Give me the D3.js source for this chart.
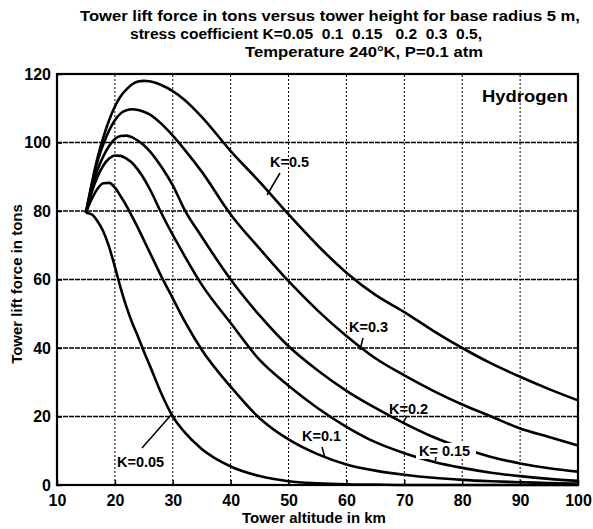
<!DOCTYPE html>
<html>
<head>
<meta charset="utf-8">
<script src="https://cdn.jsdelivr.net/npm/d3@7"></script>
<style>
  body { margin: 0; background: #fff; }
  svg { font-family: "Liberation Sans", Arial, sans-serif; font-weight: bold; }
  .title { white-space: pre; }
</style>
</head>
<body>
<div id="chart"></div>
<script>

// tower altitude in km (shared by all curves)
var altitude = [15,16,17,18,19,20,21,22,23,24,25,26,28,30,32,35,40,45,50,55,60,65,70,75,80,85,90,95,100];

// lift force in tons for each stress coefficient K
var liftK005 = [79.5,79,77,74,69.5,63.7,57.5,52,47.3,43.3,39,35,26.8,20,15.5,10.5,5.4,2.6,1.1,0.5,0.2,0.1,0,0,0,0,0,0,0];
var liftK01  = [79.5,83.5,86.5,88.1,88.2,86.8,84.3,81.5,78.3,75,71.5,68,61,54.5,48,39.5,28.7,19.5,13.3,9,6,4.2,3,2.1,1.5,1.1,0.8,0.6,0.4];
var liftK015 = [79.5,85.5,90,93.3,95.3,96.2,96.1,95.3,94,92,89.5,86.5,79.5,73,67,58.5,47.3,36.5,29,22.5,17,12.5,9.3,6.8,5,3.6,2.6,1.8,1.2];
var liftK02  = [79.5,86.5,92,96,99,101,101.9,102,101.5,100.5,99.2,97.5,93,87.5,80.5,72.5,60,49.5,40.5,33.5,27.5,22.5,18,14,10.8,8.2,6.3,4.9,3.9];
var liftK03  = [79.5,87.5,94.5,99.5,103.5,106.5,108.5,109.4,109.7,109.5,109,108.2,105.5,102,98,91.5,79,69,59.5,51,43.5,37,32,27.5,23.5,20,16.5,14,11.5];
var liftK05  = [79.5,88,95.5,101.5,106.5,110.5,113.5,115.5,117,117.8,118,117.9,116.8,115,112.5,107.5,97.5,88.5,79,70,62,55.5,50.5,45,40,35.5,31.6,28,24.7];

var xTicks = [10,20,30,40,50,60,70,80,90,100];
var yTicks = [0,20,40,60,80,100,120];

var titleLines = [
    "Tower lift force in tons versus tower height for base radius 5 m,",
    "stress coefficient K=0.05  0.1  0.15   0.2  0.3  0.5,",
    "Temperature 240\u00B0K, P=0.1 atm"
];

var series = [liftK005, liftK01, liftK015, liftK02, liftK03, liftK05];

var svg = d3.select("#chart").append("svg").attr("width", 593).attr("height", 529);

var x = d3.scaleLinear().domain([10, 100]).range([57, 578]);
var y = d3.scaleLinear().domain([0, 120]).range([485, 74]);

// title (scanned text is wide, so stretch to its measured extent)
var titleX = [80, 130, 245];
var titleW = [500, 352, 238];
svg.selectAll(".title").data(titleLines).enter().append("text")
    .attr("class", "title")
    .attr("x", function(d, i) { return titleX[i]; })
    .attr("y", function(d, i) { return 21 + i * 18; })
    .attr("font-size", 14)
    .attr("textLength", function(d, i) { return titleW[i]; })
    .attr("lengthAdjust", "spacingAndGlyphs")
    .text(function(d) { return d; });

// grid
svg.append("g").selectAll("line").data(xTicks.slice(1, -1)).enter().append("line")
    .attr("x1", function(d) { return x(d); }).attr("x2", function(d) { return x(d); })
    .attr("y1", y(0)).attr("y2", y(120))
    .attr("stroke", "#000").attr("stroke-width", 1).attr("stroke-dasharray", "2,2");

svg.append("g").selectAll("line").data(yTicks.slice(1, -1)).enter().append("line")
    .attr("x1", x(10)).attr("x2", x(100))
    .attr("y1", function(d) { return y(d); }).attr("y2", function(d) { return y(d); })
    .attr("stroke", "#000").attr("stroke-width", 1.5).attr("stroke-dasharray", "5,1");

// axes
var xAxis = d3.axisBottom(x).tickValues(xTicks).tickSize(-5).tickPadding(10);
var yAxis = d3.axisLeft(y).tickValues(yTicks).tickSize(-5).tickPadding(6);

var gx = svg.append("g").attr("transform", "translate(0," + y(0) + ")").call(xAxis);
var gy = svg.append("g").attr("transform", "translate(" + x(10) + ",0)").call(yAxis);
[gx, gy].forEach(function(g) {
    g.select(".domain").remove();
    g.selectAll("line").attr("stroke-width", 1.5);
    g.selectAll("text").attr("font-size", 16).attr("font-weight", "bold")
        .attr("font-family", "Liberation Sans, Arial, sans-serif");
});

svg.append("rect")
    .attr("x", x(10)).attr("y", y(120))
    .attr("width", x(100) - x(10)).attr("height", y(0) - y(120))
    .attr("fill", "none").attr("stroke", "#000").attr("stroke-width", 2.2);

// curves
var line = d3.line()
    .curve(d3.curveMonotoneX)
    .x(function(d, i) { return x(altitude[i]); })
    .y(function(d) { return y(d); });

svg.append("g").selectAll("path").data(series).enter().append("path")
    .attr("d", line)
    .attr("fill", "none")
    .attr("stroke", "#000")
    .attr("stroke-width", 2.6)
    .attr("stroke-linejoin", "round");

// labels with leaders
var labels = [
    {t: "K=0.5",  tx: 270, ty: 167, l: [280, 173, 267, 195]},
    {t: "K=0.3",  tx: 349, ty: 332, l: [363, 338, 360, 350]},
    {t: "K=0.2",  tx: 389, ty: 414, l: [407, 416, 403, 423]},
    {t: "K=0.1",  tx: 302, ty: 441, l: [322, 447, 325, 458]},
    {t: "K= 0.15", tx: 419, ty: 456, l: [436, 457, 435, 463], bg: true},
    {t: "K=0.05", tx: 117, ty: 467, l: [142, 448, 171, 415]}
];

labels.forEach(function(d) {
    if (d.bg) {
        svg.append("rect").attr("x", d.tx - 3).attr("y", d.ty - 13)
            .attr("width", 60).attr("height", 16).attr("fill", "#fff");
    }
    svg.append("line")
        .attr("x1", d.l[0]).attr("y1", d.l[1]).attr("x2", d.l[2]).attr("y2", d.l[3])
        .attr("stroke", "#000").attr("stroke-width", 1.5);
    svg.append("text").attr("x", d.tx).attr("y", d.ty).attr("font-size", 14.5).text(d.t);
});

svg.append("text").attr("x", 482).attr("y", 102).attr("font-size", 16)
    .attr("textLength", 86).attr("lengthAdjust", "spacingAndGlyphs").text("Hydrogen");

// axis titles
svg.append("text").attr("x", 314).attr("y", 523).attr("text-anchor", "middle")
    .attr("font-size", 15).text("Tower altitude in km");

svg.append("text")
    .attr("transform", "translate(22,284) rotate(-90)")
    .attr("text-anchor", "middle")
    .attr("font-size", 15)
    .text("Tower lift force in tons");

</script>
</body>
</html>
